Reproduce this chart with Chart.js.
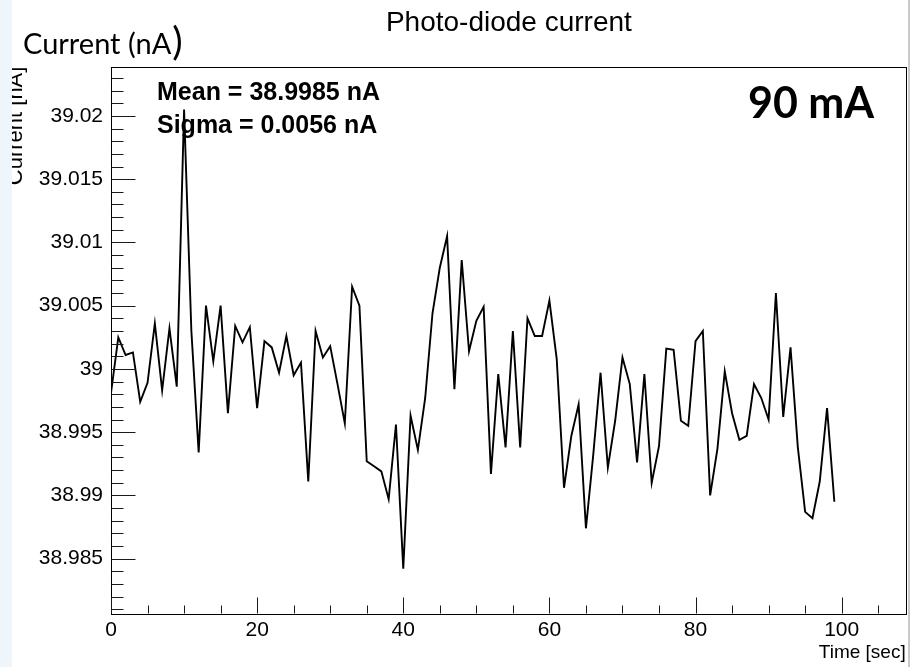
<!DOCTYPE html>
<html>
<head>
<meta charset="utf-8">
<title>Photo-diode current</title>
<script src="https://cdn.jsdelivr.net/npm/chart.js@4.4.1/dist/chart.umd.min.js"></script>
<style>
  html, body { margin: 0; padding: 0; background: #ffffff; }
  #wrap { width: 914px; height: 667px; }
</style>
</head>
<body>
<div id="wrap"><canvas id="chart" width="914" height="667"></canvas></div>
<script>
// Time of each reading, in seconds
const times = [
  0, 1, 2, 3, 4, 5, 6, 7, 8, 9,
  10, 11, 12, 13, 14, 15, 16, 17, 18, 19,
  20, 21, 22, 23, 24, 25, 26, 27, 28, 29,
  30, 31, 32, 33, 34, 35, 36, 37, 38, 39,
  40, 41, 42, 43, 44, 45, 46, 47, 48, 49,
  50, 51, 52, 53, 54, 55, 56, 57, 58, 59,
  60, 61, 62, 63, 64, 65, 66, 67, 68, 69,
  70, 71, 72, 73, 74, 75, 76, 77, 78, 79,
  80, 81, 82, 83, 84, 85, 86, 87, 88, 89,
  90, 91, 92, 93, 94, 95, 96, 97, 98, 99
];

// Photo-diode current readings, in nA
const currents = [
  38.9981, 39.0025, 39.0011, 39.0013, 38.9974, 38.9989, 39.0036, 38.9983, 39.0032, 38.9986,
  39.0205, 39.0030, 38.9934, 39.0050, 39.0006, 39.0050, 38.9965, 39.0034, 39.0021, 39.0033,
  38.9969, 39.0022, 39.0017, 38.9997, 39.0026, 38.9995, 39.0005, 38.9911, 39.0030, 39.0009,
  39.0018, 38.9988, 38.9957, 39.0065, 39.0050, 38.9927, 38.9923, 38.9919, 38.9897, 38.9956,
  38.9842, 38.9963, 38.9936, 38.9977, 39.0044, 39.0080, 39.0105, 38.9984, 39.0086, 39.0014,
  39.0038, 39.0049, 38.9917, 38.9996, 38.9938, 39.0030, 38.9938, 39.0040, 39.0026, 39.0026,
  39.0054, 39.0008, 38.9906, 38.9947, 38.9972, 38.9874, 38.9932, 38.9997, 38.9922, 38.9959,
  39.0009, 38.9988, 38.9926, 38.9996, 38.9910, 38.9939, 39.0016, 39.0015, 38.9959, 38.9955,
  39.0022, 39.0030, 38.9900, 38.9937, 38.9998, 38.9965, 38.9944, 38.9947, 38.9988, 38.9977,
  38.9960, 39.0060, 38.9962, 39.0017, 38.9938, 38.9887, 38.9882, 38.9911, 38.9969, 38.9895
];

// Axis ranges and labelled ticks
const xRange = [0, 108.9];
const yRange = [38.9806, 39.0239];
const xTickValues = [0, 20, 40, 60, 80, 100];
const xTickLabels = ['0', '20', '40', '60', '80', '100'];
const yTickValues = [38.985, 38.99, 38.995, 39, 39.005, 39.01, 39.015, 39.02];
const yTickLabels = ['38.985', '38.99', '38.995', '39', '39.005', '39.01', '39.015', '39.02'];

// Summary statistics and annotation text
const statLines = ['Mean = 38.9985 nA', 'Sigma = 0.0056 nA'];
const beamLabel = '90 mA';

const SANS = '"Liberation Sans", Arial, Helvetica, sans-serif';
const HUMANIST = 'Lato, "Open Sans", sans-serif';

// Frame, inward tick marks and text annotations
const framePlugin = {
  id: 'frame',
  beforeDraw(chart) {
    const c = chart.ctx;
    c.save();
    c.fillStyle = '#ffffff';
    c.fillRect(0, 0, chart.width, chart.height);
    c.restore();
  },
  afterDraw(chart) {
    const c = chart.ctx;
    const a = chart.chartArea;
    const xs = chart.scales.x;
    const ys = chart.scales.y;
    c.save();

    // plot frame
    c.strokeStyle = '#000000';
    c.lineWidth = 1;
    c.strokeRect(Math.round(a.left) + 0.5, Math.round(a.top) + 0.5,
                 Math.round(a.right - a.left) - 1, Math.round(a.bottom - a.top) - 1);

    // tick marks pointing into the frame
    c.strokeStyle = '#1a1a1a';
    c.beginPath();
    const yb = Math.round(a.bottom) - 0.5;
    for (let k = 0; k <= 105; k += 5) {
      const px = Math.round(xs.getPixelForValue(k)) + 0.5;
      const len = (k % 20 === 0) ? 16 : 8;
      c.moveTo(px, yb);
      c.lineTo(px, yb - len);
    }
    const xl = Math.round(a.left) + 0.5;
    for (let k = 38981; k <= 39023; k++) {
      const py = Math.round(ys.getPixelForValue(k / 1000)) + 0.5;
      const len = (k % 5 === 0) ? 24 : 12;
      c.moveTo(xl, py);
      c.lineTo(xl + len, py);
    }
    c.stroke();

    // axis titles
    c.fillStyle = '#000000';
    c.font = '19px ' + SANS;
    c.textAlign = 'right';
    c.textBaseline = 'alphabetic';
    c.fillText('Time [sec]', a.right - 1, 658);

    c.save();
    c.translate(22, a.top);
    c.rotate(-Math.PI / 2);
    c.font = '22px ' + SANS;
    c.textAlign = 'right';
    c.fillText('Current [nA]', 0, 0);
    c.restore();

    // pale strip down the left edge
    c.fillStyle = '#eef5fb';
    c.fillRect(0, 0, 12, chart.height);

    // light border at the right edge
    c.fillStyle = '#c9c9c9';
    c.fillRect(908, 0, 2, chart.height);

    // statistics box text
    c.fillStyle = '#000000';
    c.textAlign = 'left';
    c.font = 'bold 25px ' + SANS;
    c.fillText(statLines[0], 157, 100);
    c.fillText(statLines[1], 157, 133);

    // beam current label
    c.font = 'bold 43px ' + HUMANIST;
    c.fillText(beamLabel, 748, 118);

    // y quantity label above the axis
    c.font = '29px ' + HUMANIST;
    c.fillText('Current (nA', 23, 54);
    const w = c.measureText('Current (nA').width;
    c.font = '39px ' + HUMANIST;
    c.fillText(')', 23 + w + 1, 55);

    c.restore();
  }
};

const ctx = document.getElementById('chart').getContext('2d');
new Chart(ctx, {
  type: 'line',
  data: {
    datasets: [{
      data: times.map((t, i) => ({ x: t, y: currents[i] })),
      borderColor: '#000000',
      borderWidth: 1.9,
      pointRadius: 0,
      tension: 0,
      fill: false
    }]
  },
  options: {
    responsive: false,
    animation: false,
    devicePixelRatio: 1,
    layout: { padding: { top: 0, right: 7.3, bottom: 0, left: 0 } },
    plugins: {
      legend: { display: false },
      tooltip: { enabled: false },
      title: {
        display: true,
        text: 'Photo-diode current',
        fullSize: false,
        color: '#000000',
        font: { family: SANS, size: 28, weight: 'normal', lineHeight: 1.2 },
        padding: { top: 6, bottom: 27 }
      }
    },
    scales: {
      x: {
        type: 'linear',
        min: xRange[0],
        max: xRange[1],
        grid: { display: false, drawTicks: false },
        border: { display: false },
        afterBuildTicks(scale) { scale.ticks = xTickValues.map(v => ({ value: v })); },
        afterFit(scale) { scale.height = 52.7; },
        ticks: {
          padding: 3,
          color: '#000000',
          font: { family: SANS, size: 21 },
          maxRotation: 0,
          callback(value) {
            const i = xTickValues.indexOf(value);
            return i >= 0 ? xTickLabels[i] : '';
          }
        }
      },
      y: {
        type: 'linear',
        min: yRange[0],
        max: yRange[1],
        grid: { display: false, drawTicks: false },
        border: { display: false },
        afterBuildTicks(scale) { scale.ticks = yTickValues.map(v => ({ value: v })); },
        afterFit(scale) { scale.width = 111; },
        ticks: {
          padding: 8,
          color: '#000000',
          font: { family: SANS, size: 21 },
          callback(value) {
            const i = yTickValues.findIndex(v => Math.abs(v - value) < 1e-9);
            return i >= 0 ? yTickLabels[i] : '';
          }
        }
      }
    }
  },
  plugins: [framePlugin]
});
</script>
</body>
</html>
